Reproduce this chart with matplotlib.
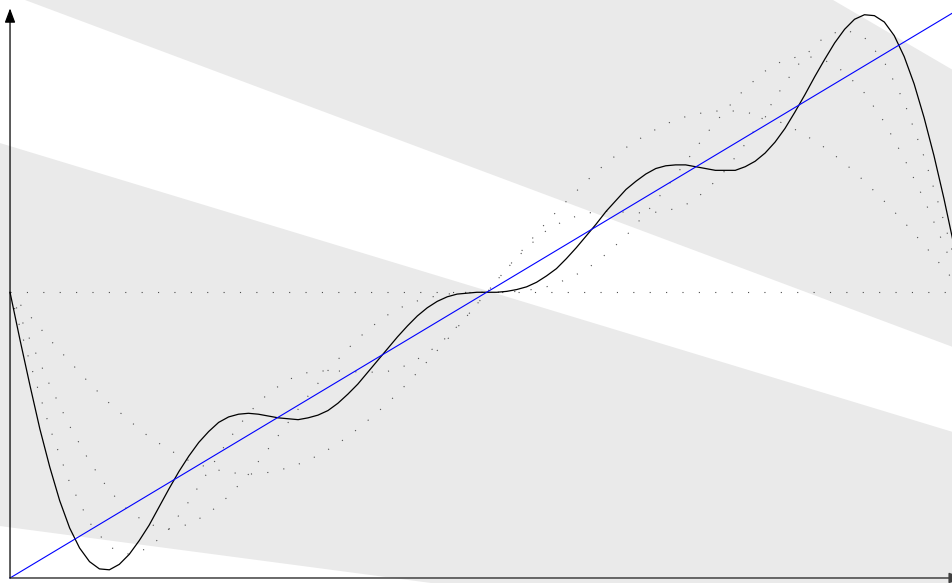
import matplotlib.pyplot as plt

# x positions of the samples (0 .. 2*pi)
x = [0.0000, 0.1309, 0.2618, 0.3927, 0.5236, 0.6545, 0.7854, 0.9163, 1.0472,
     1.1781, 1.3090, 1.4399, 1.5708, 1.7017, 1.8326, 1.9635, 2.0944, 2.2253,
     2.3562, 2.4871, 2.6180, 2.7489, 2.8798, 3.0107, 3.1416, 3.2725, 3.4034,
     3.5343, 3.6652, 3.7961, 3.9270, 4.0579, 4.1888, 4.3197, 4.4506, 4.5815,
     4.7124, 4.8433, 4.9742, 5.1051, 5.2360, 5.3669, 5.4978, 5.6287, 5.7596,
     5.8905, 6.0214, 6.1523, 6.2832]

# finer x positions for the solid curve
x_fine = [0.0000, 0.0654, 0.1309, 0.1963, 0.2618, 0.3272, 0.3927, 0.4581,
          0.5236, 0.5890, 0.6545, 0.7199, 0.7854, 0.8508, 0.9163, 0.9817,
          1.0472, 1.1126, 1.1781, 1.2435, 1.3090, 1.3744, 1.4399, 1.5053,
          1.5708, 1.6362, 1.7017, 1.7671, 1.8326, 1.8980, 1.9635, 2.0289,
          2.0944, 2.1598, 2.2253, 2.2907, 2.3562, 2.4216, 2.4871, 2.5525,
          2.6180, 2.6834, 2.7489, 2.8143, 2.8798, 2.9452, 3.0107, 3.0761,
          3.1416, 3.2070, 3.2725, 3.3379, 3.4034, 3.4688, 3.5343, 3.5997,
          3.6652, 3.7306, 3.7961, 3.8615, 3.9270, 3.9924, 4.0579, 4.1233,
          4.1888, 4.2542, 4.3197, 4.3851, 4.4506, 4.5160, 4.5815, 4.6469,
          4.7124, 4.7778, 4.8433, 4.9087, 4.9742, 5.0396, 5.1051, 5.1705,
          5.2360, 5.3014, 5.3669, 5.4323, 5.4978, 5.5632, 5.6287, 5.6941,
          5.7596, 5.8250, 5.8905, 5.9559, 6.0214, 6.0868, 6.1523, 6.2177,
          6.2832]

# partial sums
sum0_x = [0.0, 6.2832]
sum0 = [3.14, 3.14]
sum1 = [3.14, 2.88, 2.62, 2.38, 2.14, 1.92, 1.73, 1.55, 1.41, 1.29, 1.21, 1.16,
        1.14, 1.16, 1.21, 1.29, 1.41, 1.55, 1.73, 1.92, 2.14, 2.38, 2.62, 2.88,
        3.14, 3.40, 3.66, 3.91, 4.14, 4.36, 4.56, 4.73, 4.87, 4.99, 5.07, 5.12,
        5.14, 5.12, 5.07, 4.99, 4.87, 4.73, 4.56, 4.36, 4.14, 3.91, 3.66, 3.40,
        3.14]
sum2 = [3.14, 2.62, 2.12, 1.67, 1.28, 0.96, 0.73, 0.59, 0.54, 0.59, 0.71, 0.90,
        1.14, 1.42, 1.71, 2.00, 2.28, 2.52, 2.73, 2.89, 3.01, 3.08, 3.12, 3.14,
        3.14, 3.14, 3.16, 3.20, 3.28, 3.39, 3.56, 3.76, 4.01, 4.28, 4.57, 4.87,
        5.14, 5.38, 5.57, 5.70, 5.74, 5.69, 5.56, 5.33, 5.01, 4.61, 4.16, 3.66,
        3.14]
sum3 = [3.14, 2.37, 1.65, 1.05, 0.61, 0.34, 0.26, 0.33, 0.54, 0.84, 1.18, 1.52,
        1.81, 2.03, 2.18, 2.26, 2.28, 2.27, 2.26, 2.27, 2.34, 2.47, 2.65, 2.88,
        3.14, 3.40, 3.63, 3.82, 3.94, 4.01, 4.03, 4.02, 4.01, 4.03, 4.10, 4.25,
        4.48, 4.77, 5.10, 5.44, 5.74, 5.95, 6.03, 5.94, 5.67, 5.23, 4.63, 3.92,
        3.14]
sum4 = [3.14, 2.62, 2.12, 1.64, 1.22, 0.85, 0.55, 0.33, 0.18, 0.10, 0.09, 0.15,
        0.26, 0.41, 0.58, 0.78, 0.98, 1.17, 1.34, 1.49, 1.61, 1.71, 1.77, 1.80,
        1.81, 1.80, 1.78, 1.76, 1.75, 1.74, 1.76, 1.79, 1.84, 1.92, 2.02, 2.13,
        2.26, 2.39, 2.52, 2.65, 2.77, 2.88, 2.97, 3.04, 3.09, 3.12, 3.13, 3.14,
        3.14,
        3.14, 3.15, 3.17, 3.20, 3.25, 3.32, 3.40, 3.51, 3.63, 3.76, 3.89, 4.03,
        4.15, 4.27, 4.36, 4.44, 4.50, 4.53, 4.54, 4.54, 4.52, 4.50, 4.48, 4.48,
        4.48, 4.52, 4.58, 4.67, 4.79, 4.94, 5.12, 5.31, 5.51, 5.70, 5.88, 6.03,
        6.14, 6.19, 6.18, 6.11, 5.96, 5.73, 5.43, 5.06, 4.64, 4.17, 3.66, 3.14]

# the target line y = x
line_x = [0.0, 6.2832]
line_y = [0.0, 6.2832]

# background bands (edges given at the left and right limits)
band_x = [-0.066, 6.212]
band_top_lo = [6.455, 2.538]
band_top_hi = [11.70, 5.582]
band_bot_lo = [0.571, -0.813]
band_bot_hi = [4.780, 1.604]

fig = plt.figure(figsize=(9.53, 5.83), dpi=100)
ax = fig.add_axes([0, 0, 1, 1])
ax.set_xlim(band_x[0], band_x[1])
ax.set_ylim(-0.055, 6.352)
ax.axis('off')

ax.fill_between(band_x, band_top_lo, band_top_hi, color='#eaeaea', lw=0, zorder=0)
ax.fill_between(band_x, band_bot_lo, band_bot_hi, color='#eaeaea', lw=0, zorder=0)

dots = dict(color='0.3', lw=0.8, linestyle=(0, (1, 13.75)), zorder=2)
ax.plot(sum0_x, sum0, **dots)
ax.plot(x, sum1, **dots)
ax.plot(x, sum2, **dots)
ax.plot(x, sum3, **dots)

ax.plot(x_fine, sum4, color='black', lw=0.9, zorder=3)
ax.plot(line_x, line_y, color='#0000ff', lw=0.8, zorder=4)

# axes drawn as arrows
arrow = dict(arrowstyle='-|>,head_length=0.86,head_width=0.32', color='black',
             lw=0.9, mutation_scale=10, shrinkA=0, shrinkB=0)
ax.annotate('', xy=(6.28, 0), xytext=(0, 0), annotation_clip=False,
            arrowprops=dict(arrow, color='0.25', lw=1.1), zorder=5)
ax.annotate('', xy=(0, 6.26), xytext=(0, 0), annotation_clip=False,
            arrowprops=arrow, zorder=5)

fig.savefig('out.png', dpi=100)
